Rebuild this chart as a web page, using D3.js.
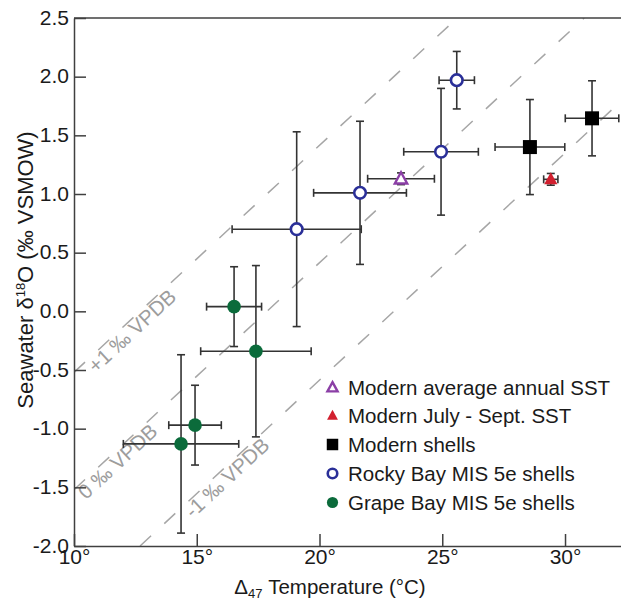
<!DOCTYPE html>
<html><head><meta charset="utf-8">
<script src="https://cdn.jsdelivr.net/npm/d3@7"></script>
<style>
body{margin:0;background:#fff}
svg{display:block;font-family:"Liberation Sans",Arial,Helvetica,sans-serif}
</style>
</head><body><div id="chart"></div>
<script>
// ---------- data ----------
const xTicks = [10, 15, 20, 25, 30];
const yTicks = [-2.0, -1.5, -1.0, -0.5, 0.0, 0.5, 1.0, 1.5, 2.0, 2.5];

const grapeT    = [16.52, 17.41, 14.93, 14.36];
const grapeD    = [0.04, -0.34, -0.97, -1.13];
const grapeTErr = [1.12, 2.25, 1.07, 2.35];
const grapeDErr = [0.34, 0.73, 0.34, 0.76];

const rockyT    = [19.07, 21.65, 24.95, 25.59];
const rockyD    = [0.70, 1.01, 1.36, 1.97];
const rockyTErr = [2.63, 1.89, 1.52, 0.72];
const rockyDErr = [0.83, 0.61, 0.54, 0.245];

const annualT = [23.32], annualD = [1.13], annualTErr = [1.36], annualDErr = [0.05];
const julySepT = [29.42], julySepD = [1.125], julySepTErr = [0.29], julySepDErr = [0.05];

const shellT    = [28.57, 31.10];
const shellD    = [1.40, 1.645];
const shellTErr = [1.42, 1.09];
const shellDErr = [0.405, 0.32];

// VPDB reference lines: endpoints [T, d18O water]
const vpdbNames = ["+1 \u2030 VPDB", "0 \u2030 VPDB", "-1 \u2030 VPDB"];
const vpdbLines = [
  [[10, -0.52], [25.61, 2.5]],
  [[10, -1.52], [30.78, 2.5]],
  [[12.69, -2.0], [32.28, 1.79]]
];
const vpdbLabelT = [10.45, 10.05, 14.4];

const legendLabels = ["Modern average annual SST", "Modern July - Sept. SST", "Modern shells",
                      "Rocky Bay MIS 5e shells", "Grape Bay MIS 5e shells"];

// ---------- chart ----------
const W = 621, H = 605;
const svg = d3.select("#chart").append("svg").attr("width", W).attr("height", H);

const x = d3.scaleLinear().domain([10, 32.28]).range([74, 621]);
const y = d3.scaleLinear().domain([-2, 2.5]).range([546, 18]);

const axisColor = "#404040";

svg.append("clipPath").attr("id", "clip").append("rect")
  .attr("x", 74).attr("y", 18).attr("width", 621 - 74).attr("height", 546 - 18);

// reference dashed lines
const gl = svg.append("g").attr("clip-path", "url(#clip)");
const line = d3.line().x(d => x(d[0])).y(d => y(d[1]));
vpdbLines.forEach(l => {
  gl.append("path").attr("d", line(l)).attr("fill", "none")
    .attr("stroke", "#a6a6a6").attr("stroke-width", 1.5).attr("stroke-dasharray", "15,18");
});
vpdbLines.forEach((l, i) => {
  const [p0, p1] = l;
  const s = (p1[1] - p0[1]) / (p1[0] - p0[0]);
  const T = vpdbLabelT[i];
  const D = p0[1] + s * (T - p0[0]);
  const ang = Math.atan2(y(p1[1]) - y(p0[1]), x(p1[0]) - x(p0[0])) * 180 / Math.PI;
  svg.append("text")
    .attr("transform", `translate(${x(T)},${y(D)}) rotate(${ang})`)
    .attr("dy", 16)
    .attr("fill", "#9d9d9d").attr("font-size", 20.5)
    .text(vpdbNames[i]);
});

// axes
const yAxis = d3.axisLeft(y).tickValues(yTicks).tickSize(-12).tickSizeOuter(0)
  .tickPadding(5).tickFormat(d => d.toFixed(1));
const gy = svg.append("g").attr("transform", "translate(74,0)").call(yAxis);
const xAxis = d3.axisBottom(x).tickValues(xTicks).tickSize(-12).tickSizeOuter(0)
  .tickPadding(3).tickFormat(d => d + "\u00b0");
const gx = svg.append("g").attr("transform", "translate(0,546)").call(xAxis);
[gx, gy].forEach(g => {
  g.selectAll("path,line").attr("stroke", axisColor).attr("stroke-width", 1.5);
  g.selectAll("text").attr("fill", "#1a1a1a").attr("font-size", 21)
    .attr("font-family", '"Liberation Sans",Arial,sans-serif');
});
gy.selectAll(".tick text").attr("dy", "0.30em");
svg.append("line").attr("x1", 74).attr("x2", 621).attr("y1", 18).attr("y2", 18)
  .attr("stroke", axisColor).attr("stroke-width", 1.5);

// axis titles
const xt = svg.append("text").attr("x", 330).attr("y", 594).attr("text-anchor", "middle")
  .attr("font-size", 20.5).attr("fill", "#1a1a1a");
xt.append("tspan").text("\u0394");
xt.append("tspan").attr("font-size", 13).attr("dy", 4).text("47");
xt.append("tspan").attr("dy", -4).text(" Temperature (\u00b0C)");

const yt = svg.append("text").attr("transform", "translate(33,270) rotate(-90)")
  .attr("text-anchor", "middle").attr("font-size", 22).attr("fill", "#1a1a1a");
yt.append("tspan").text("Seawater \u03b4");
yt.append("tspan").attr("font-size", 13).attr("dy", -8).text("18");
yt.append("tspan").attr("dy", 8).text("O (\u2030 VSMOW)");

// error bars
const ebColor = "#333";
function errBars(T, D, TE, DE) {
  const g = svg.append("g").attr("stroke", ebColor).attr("stroke-width", 1.6);
  T.forEach((t, i) => {
    const cx = x(t), cy = y(D[i]);
    const xl = x(t - TE[i]), xr = x(t + TE[i]);
    const yt2 = y(D[i] + DE[i]), yb = y(D[i] - DE[i]);
    g.append("line").attr("x1", xl).attr("x2", xr).attr("y1", cy).attr("y2", cy);
    g.append("line").attr("x1", xl).attr("x2", xl).attr("y1", cy - 4).attr("y2", cy + 4);
    g.append("line").attr("x1", xr).attr("x2", xr).attr("y1", cy - 4).attr("y2", cy + 4);
    g.append("line").attr("x1", cx).attr("x2", cx).attr("y1", yt2).attr("y2", yb);
    g.append("line").attr("x1", cx - 4).attr("x2", cx + 4).attr("y1", yt2).attr("y2", yt2);
    g.append("line").attr("x1", cx - 4).attr("x2", cx + 4).attr("y1", yb).attr("y2", yb);
  });
}
errBars(grapeT, grapeD, grapeTErr, grapeDErr);
errBars(rockyT, rockyD, rockyTErr, rockyDErr);
errBars(annualT, annualD, annualTErr, annualDErr);
errBars(julySepT, julySepD, julySepTErr, julySepDErr);
errBars(shellT, shellD, shellTErr, shellDErr);

// markers
const purple = "#8b3fa6", red = "#d2202f", blue = "#2a2f98", green = "#0b6b3b";
const triPath = r => `M0,${-r}L${r * 0.95},${r * 0.72}L${-r * 0.95},${r * 0.72}Z`;
function markers(T, D, kind) {
  T.forEach((t, i) => drawMarker(svg, x(t), y(D[i]), kind, 1));
}
function drawMarker(g, cx, cy, kind, sc) {
  if (kind === "grape") g.append("circle").attr("cx", cx).attr("cy", cy).attr("r", 6.8 * sc).attr("fill", green);
  if (kind === "rocky") g.append("circle").attr("cx", cx).attr("cy", cy).attr("r", 5.8 * sc)
    .attr("fill", "#fff").attr("stroke", blue).attr("stroke-width", 2.6);
  if (kind === "shell") g.append("rect").attr("x", cx - 7 * sc).attr("y", cy - 7 * sc)
    .attr("width", 14 * sc).attr("height", 14 * sc).attr("fill", "#000");
  if (kind === "annual") g.append("path").attr("transform", `translate(${cx},${cy})`)
    .attr("d", triPath(6.5 * sc)).attr("fill", "#fff").attr("stroke", purple).attr("stroke-width", 2.4);
  if (kind === "july") g.append("path").attr("transform", `translate(${cx},${cy})`)
    .attr("d", triPath(7 * sc)).attr("fill", red);
}
markers(grapeT, grapeD, "grape");
markers(rockyT, rockyD, "rocky");
markers(annualT, annualD, "annual");
markers(julySepT, julySepD, "july");
markers(shellT, shellD, "shell");

// legend
const kinds = ["annual", "july", "shell", "rocky", "grape"];
const rowY = [387.5, 415.5, 444.5, 473.5, 502.5];
legendLabels.forEach((lab, i) => {
  drawMarker(svg, 332.5, rowY[i], kinds[i], 0.82);
  svg.append("text").attr("x", 348).attr("y", rowY[i]).attr("dy", "0.36em")
    .attr("font-size", 20.5).attr("fill", "#1a1a1a").text(lab);
});
</script></body></html>
